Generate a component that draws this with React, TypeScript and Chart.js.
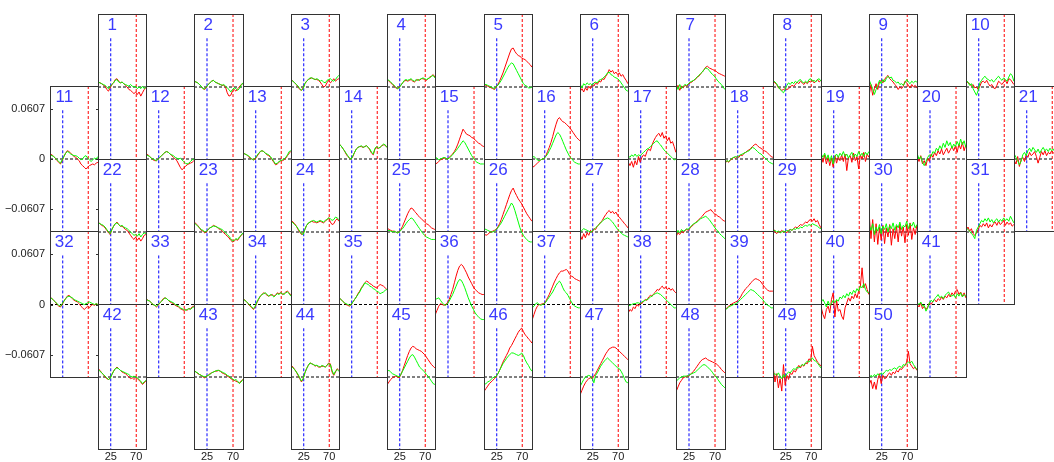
import React, { useEffect, useRef } from 'react';
import { Chart, registerables } from 'chart.js';

Chart.register(...registerables);

// ---- sample positions (x axis, same for every channel) ----
const X_SAMPLES = [3, 6, 9, 12, 15, 18, 21, 24, 27, 30, 33, 36, 39, 42, 45, 48, 51, 54, 57, 60, 63, 66, 69, 72, 75, 78, 81, 84, 87];
// series values are written in units of 0.001
const VALUE_UNIT = 0.001;

// ---- channel series: g = green, r = red ----
const g1 = [6,5,4,3,2,0,-2,1,3,5,8,9,6,5,6,4,3,2,1,3,1,0,1,-2,0,-2,1,-2,0];
const r1 = [6,5,4,2,1,-3,-5,-1,3,5,9,10,7,5,6,4,2,0,-3,-4,-6,-8,-6,-9,-6,-11,-7,-3,-1];
const g2 = [7,6,5,3,1,-2,-2,0,3,5,7,8,6,5,4,3,2,3,1,-1,-3,-6,-3,-1,-2,-4,-2,2,5];
const r2 = [7,6,5,3,1,-2,-3,0,3,5,7,8,6,5,4,3,2,2,0,-7,-11,-10,-5,-3,-5,-2,0,3,4];
const g3 = [8,7,5,3,1,-2,-4,-2,4,7,9,11,11,10,9,10,9,7,8,6,5,8,9,10,8,7,9,12,14];
const r3 = [9,7,5,3,0,-3,-4,-1,4,7,9,10,11,10,9,9,8,6,3,0,1,5,8,5,7,10,7,9,10];
const g4 = [9,8,6,4,2,0,-2,-1,2,5,8,9,8,9,10,8,7,9,8,9,10,11,10,9,10,11,13,14,11];
const r4 = [9,7,5,3,1,-1,-2,0,2,5,7,8,7,8,9,7,6,8,9,8,10,10,9,8,10,12,13,15,12];
const g5 = [3,3,2,1,0,-1,-2,1,2,5,8,12,16,20,24,27,29,28,24,20,16,12,8,4,2,1,-1,-1,0];
const r5 = [3,2,1,0,-1,-2,-3,0,3,7,12,17,23,29,35,41,46,47,43,40,38,37,35,34,33,31,29,27,24];
const g6 = [3,-1,4,2,5,3,4,2,5,6,5,8,9,10,12,14,17,18,15,14,12,11,10,8,5,2,-1,-4,-5];
const r6 = [-5,-2,-6,-1,-4,1,-2,3,1,5,3,7,6,10,9,13,16,21,18,20,16,18,15,17,13,15,11,8,4];
const g7 = [2,-3,3,-2,1,3,2,4,6,7,8,10,12,14,16,18,21,23,22,20,17,15,13,10,7,5,3,0,-3];
const r7 = [-2,2,-4,1,-1,2,1,3,5,6,8,9,12,13,16,18,21,24,25,23,22,21,20,19,17,16,15,14,13];
const g8 = [8,6,4,0,-3,-5,-7,-3,2,5,3,6,4,7,5,8,9,6,5,7,5,9,10,7,8,6,9,10,7];
const r8 = [7,5,3,-1,-2,-4,-3,-2,-3,-2,0,2,1,3,6,4,7,5,3,6,4,7,6,8,5,7,9,6,8];
const g9 = [8,3,-2,-9,-3,2,8,4,9,6,10,13,11,12,8,7,5,6,3,4,2,5,9,6,4,7,5,7,6];
const r9 = [-9,3,-10,-2,4,-3,6,8,5,9,12,14,10,8,6,3,1,-3,0,-2,1,7,5,2,-1,3,0,2,-1];
const g10 = [8,6,2,4,-2,-6,-10,-4,5,8,11,13,10,9,7,9,6,8,11,13,10,8,11,9,7,12,16,14,7];
const r10 = [7,5,4,1,3,-1,0,-3,1,6,7,5,8,4,1,3,-1,-2,2,7,5,3,6,8,4,10,9,6,3];
const g11 = [5,4,3,1,-1,-3,-5,-1,3,7,9,8,6,5,4,4,3,1,-1,0,3,4,1,-1,-3,-1,1,0,3];
const r11 = [6,5,3,1,-2,-4,-6,-2,3,7,10,9,7,5,3,2,0,-2,-6,-8,-10,-12,-10,-8,-7,-6,-7,-5,-4];
const g12 = [5,4,3,1,0,-1,-2,0,2,4,6,8,9,8,6,5,4,2,1,0,1,-1,-3,-5,-6,-5,-3,-1,0];
const r12 = [6,5,3,1,-1,-2,-2,0,2,4,6,8,9,8,6,4,2,0,-2,-6,-10,-13,-11,-9,-7,-6,-5,-4,-2];
const g13 = [7,6,5,4,2,0,-1,1,4,7,9,10,9,7,6,5,3,0,-3,-6,-5,-3,-2,-1,0,2,5,9,10];
const r13 = [7,6,5,3,1,0,-1,0,3,6,9,10,9,7,5,4,2,-1,-4,-7,-6,-4,-2,-2,-1,1,4,7,9];
const g14 = [18,16,13,10,7,4,1,0,4,8,12,14,15,16,14,15,16,14,12,8,6,13,15,13,14,16,18,17,14];
const r14 = [18,16,13,10,6,3,1,0,3,8,12,14,15,15,14,15,16,14,11,7,5,12,14,13,14,16,17,17,14];
const g15 = [2,1,-1,0,1,2,1,0,1,3,5,8,10,13,16,19,22,20,16,12,8,4,1,-2,-4,-5,-6,-6,-6];
const r15 = [-6,-5,-3,-1,0,1,1,0,2,4,6,9,13,18,24,30,36,33,30,29,28,26,25,23,21,19,18,16,15];
const g16 = [2,3,1,-1,-2,-1,0,1,3,6,10,14,19,24,29,32,30,26,21,16,11,7,3,1,-2,-4,-5,-6,-6];
const r16 = [-10,-9,-7,-5,-3,-1,0,1,4,9,14,20,27,35,42,48,50,47,45,44,42,40,38,35,32,29,26,24,22];
const g17 = [4,2,5,3,6,3,5,4,6,8,10,12,13,15,17,19,21,22,19,17,14,11,9,7,5,3,1,-1,0];
const r17 = [-4,-8,-3,-10,-2,-7,3,-4,2,5,3,9,12,10,17,22,26,29,31,27,32,25,28,22,26,19,21,15,8];
const g18 = [-4,-2,-3,-1,1,2,3,2,4,5,6,7,8,9,10,12,14,13,11,9,7,6,4,2,0,-2,-4,-5,-6];
const r18 = [-5,-2,-4,-1,0,2,1,3,2,5,4,7,8,10,11,13,15,17,18,16,14,13,11,10,9,7,5,3,2];
const g19 = [6,2,7,0,5,-3,4,-6,3,6,2,7,4,9,3,6,1,5,8,2,6,3,9,4,7,3,8,5,9];
const r19 = [3,-4,5,-6,2,-8,1,-10,4,-5,3,-2,5,-3,6,-14,2,4,-4,7,-2,3,-12,5,0,8,-3,6,2];
const g20 = [6,0,3,-4,-8,-3,2,5,3,9,7,13,10,16,12,19,14,22,16,20,13,18,15,21,16,24,17,22,14];
const r20 = [2,-3,4,-6,-2,-8,1,-3,6,2,8,4,10,6,12,5,9,13,7,11,15,10,16,8,18,12,20,10,17];
const g21 = [6,2,-2,-7,-3,5,8,4,10,13,9,14,11,8,12,7,11,14,10,12,9,13,10,12,8,11,9,12,10];
const r21 = [-2,-6,3,-9,-1,2,-3,5,2,8,4,6,9,3,-5,2,9,5,10,4,8,6,10,7,9,6,10,7,9];
const g22 = [11,10,9,8,6,3,0,-2,3,7,10,11,9,7,8,6,5,4,2,0,-2,-4,-3,-5,-2,-6,-3,-1,-2];
const r22 = [12,10,8,7,5,2,-1,-3,3,7,10,12,9,7,7,5,3,2,-1,-4,-7,-9,-6,-10,-7,-11,-8,-4,-3];
const g23 = [11,9,7,5,3,2,0,1,3,5,6,7,7,6,5,4,3,1,-1,-3,-5,-8,-11,-10,-8,-9,-6,-4,-1];
const r23 = [12,10,8,5,2,1,-1,0,3,5,6,8,7,6,4,3,1,-1,-3,-5,-7,-10,-12,-11,-9,-10,-7,-4,-2];
const g24 = [13,11,9,7,4,1,-2,-3,3,8,11,12,13,14,13,12,13,14,13,12,14,15,17,16,14,15,18,17,15];
const r24 = [14,12,10,7,3,0,-3,-2,3,8,10,12,13,12,12,11,12,13,12,11,13,15,17,12,9,10,14,16,13];
const g25 = [1,2,1,0,1,0,-1,0,2,4,7,10,13,15,17,16,13,10,7,4,1,-2,-4,-6,-7,-8,-9,-9,-9];
const r25 = [5,3,2,1,1,0,-1,0,3,7,12,17,22,26,29,28,25,23,20,18,16,14,12,10,9,7,5,4,3];
const g26 = [4,3,2,1,0,0,1,3,5,8,11,15,19,23,27,31,35,32,26,19,12,5,0,-4,-7,-9,-11,-12,-12];
const r26 = [-2,-4,-3,-1,0,1,2,3,6,10,15,21,27,33,39,45,50,53,48,44,40,37,34,30,26,22,19,16,13];
const g27 = [0,2,4,3,2,1,0,1,3,5,7,9,11,13,15,16,17,16,14,12,9,6,3,1,-1,-3,-4,-5,-6];
const r27 = [-4,-9,-2,-7,-1,-4,2,0,4,3,7,9,12,14,18,21,24,26,23,25,22,24,20,18,15,13,10,8,5];
const g28 = [-3,2,-1,3,1,2,4,3,6,8,10,11,12,14,16,17,18,19,17,15,12,9,6,3,1,-2,-4,-6,-8];
const r28 = [-5,-1,-3,1,-1,2,3,2,5,7,9,11,13,15,17,19,22,24,25,26,27,24,22,21,19,18,16,14,13];
const g29 = [1,2,0,1,-1,0,1,0,2,1,3,2,4,3,5,4,6,5,7,8,7,9,8,10,9,8,7,5,4];
const r29 = [4,0,-2,1,-1,2,0,1,-1,2,3,2,4,6,5,7,9,8,10,12,11,14,15,13,16,12,14,9,5];
const g30 = [8,2,10,-3,6,1,9,-2,7,3,10,0,8,4,11,2,9,5,12,3,8,6,13,4,10,7,12,5,9];
const r30 = [20,-8,15,-12,10,-15,6,-10,8,-14,5,-6,9,-16,4,-8,7,-12,10,-5,6,-13,9,-4,11,-9,5,-3,8];
const g31 = [5,3,1,-2,-4,-8,2,6,10,14,12,16,13,17,12,15,11,14,16,12,15,13,17,14,16,13,19,15,11];
const r31 = [2,6,1,4,-2,-4,-1,3,8,6,10,7,11,5,9,6,10,12,8,13,9,11,14,8,12,9,11,7,9];
const g32 = [8,7,5,3,1,-1,-2,1,4,7,9,10,9,8,6,5,4,3,2,1,0,1,2,3,2,1,0,1,0];
const r32 = [9,7,5,3,0,-2,-3,0,4,7,10,11,9,7,5,4,3,1,-2,-4,-6,-4,-2,-4,-1,0,-1,1,0];
const g33 = [6,5,4,2,0,-1,-2,0,2,4,6,8,7,5,4,3,2,0,-1,-2,-4,-5,-6,-7,-6,-5,-6,-4,-3];
const r33 = [7,5,4,2,0,-1,-3,-1,2,4,7,8,7,5,3,2,1,-1,-2,-3,-5,-6,-7,-6,-7,-5,-5,-3,-2];
const g34 = [6,5,3,1,-1,-3,-5,-2,3,7,10,12,13,14,12,10,12,11,9,11,13,12,14,13,12,14,15,13,10];
const r34 = [7,5,3,1,-2,-4,-6,-3,2,6,10,12,14,13,11,10,11,12,10,11,14,13,14,12,13,15,16,14,11];
const g35 = [8,6,4,2,1,0,-1,0,3,6,9,12,15,19,22,26,25,24,22,21,19,18,16,15,13,14,15,17,18];
const r35 = [8,6,4,2,0,-1,-2,0,3,6,9,13,16,20,23,26,28,27,25,24,22,21,20,22,24,23,22,20,18];
const g36 = [6,7,8,5,2,0,-1,1,4,8,12,17,22,27,30,29,25,20,14,8,3,-2,-6,-10,-13,-15,-17,-18,-18];
const r36 = [-12,-7,-2,1,0,-1,0,2,6,12,18,26,34,41,46,48,46,42,38,33,29,25,21,18,16,14,13,12,12];
const g37 = [-4,-2,1,2,0,-1,0,1,3,6,9,12,15,19,23,26,28,25,20,16,14,11,7,3,0,-2,-3,-4,-4];
const r37 = [-18,-12,-6,-2,0,0,1,1,4,8,12,17,22,27,31,35,38,40,40,41,42,40,36,34,33,31,30,29,28];
const g38 = [-2,-1,0,1,1,2,2,1,3,4,5,6,7,9,10,12,13,14,13,12,10,8,6,4,2,0,-2,-4,-4];
const r38 = [-10,-6,-8,-3,-5,0,-2,2,1,4,6,5,9,11,10,13,15,18,17,20,22,19,21,18,20,17,19,16,14];
const g39 = [-6,-5,-3,-2,-1,0,1,2,4,6,8,10,12,14,16,18,17,16,14,12,10,8,6,3,1,-1,-2,-4,-4];
const r39 = [-6,-4,-2,-1,1,2,3,4,6,9,13,16,19,21,23,26,28,30,31,30,29,27,24,21,19,17,16,16,16];
const g40 = [3,6,2,-3,4,-1,1,5,2,6,4,9,7,11,8,13,10,15,12,17,14,19,16,22,20,25,18,15,14];
const r40 = [-4,-12,-17,-6,-2,-10,6,14,-15,5,-8,-6,-14,-18,-4,2,8,4,10,7,13,8,16,22,44,20,25,18,12];
const g41 = [2,0,3,-2,-1,-8,-4,2,5,3,7,9,12,8,10,7,11,13,15,11,10,12,8,13,10,14,9,12,10];
const r41 = [0,-3,2,-5,-2,-6,-3,2,0,4,6,3,7,5,9,6,10,8,12,9,14,11,16,18,12,15,10,14,8];
const g42 = [9,7,5,3,1,-1,-3,-2,3,7,10,11,10,8,7,6,5,4,3,1,0,1,0,-1,-3,-5,-8,-6,-4];
const r42 = [10,8,5,3,0,-2,-3,-1,3,7,10,12,10,8,6,5,4,2,0,-2,-1,-3,-1,-2,-4,-6,-9,-7,-5];
const g43 = [7,6,5,3,2,1,0,1,2,3,5,6,7,8,8,7,6,5,4,2,1,-1,-2,-4,-3,-5,-8,-6,-3];
const r43 = [8,6,4,3,2,0,-1,1,2,4,5,6,7,7,8,7,5,4,3,1,0,-2,-3,-4,-5,-6,-7,-5,-3];
const g44 = [13,11,9,6,3,-1,-5,-2,5,10,14,17,16,15,14,14,13,12,14,13,12,14,16,15,8,3,7,9,7];
const r44 = [14,12,9,6,2,-2,-6,-2,5,10,14,17,16,15,13,14,12,12,13,13,12,14,17,16,6,2,6,10,8];
const g45 = [7,8,6,4,3,2,1,0,3,7,11,15,19,23,26,27,24,20,16,12,10,8,6,3,1,-2,-5,-8,-9];
const r45 = [-9,-6,-3,-1,0,1,0,-1,3,8,14,20,26,31,35,37,36,34,33,32,31,29,27,24,21,18,15,13,11];
const g46 = [-9,-8,-6,-5,-3,-1,0,1,4,8,12,16,19,22,25,27,29,29,28,27,26,27,29,26,21,17,14,10,7];
const r46 = [-17,-14,-11,-8,-6,-4,-2,1,4,8,13,18,22,26,30,35,38,42,46,50,54,57,59,55,51,49,46,44,41];
const g47 = [-11,-7,-3,0,1,2,1,-2,-7,2,5,9,13,16,19,21,23,21,19,17,15,13,11,10,7,3,-2,-6,-7];
const r47 = [-21,-16,-11,-7,-4,-2,-1,-2,1,4,8,12,16,20,24,28,31,34,35,36,36,35,33,31,29,27,25,23,21];
const g48 = [-5,-3,-1,0,1,1,1,2,3,4,5,6,8,10,12,14,15,14,12,10,8,5,2,0,-3,-6,-9,-11,-13];
const r48 = [-17,-12,-7,-4,-1,0,1,1,3,5,7,10,13,16,19,21,22,23,21,20,19,18,17,16,14,12,9,7,5];
const g49 = [3,4,2,5,1,-2,3,0,4,6,5,8,10,9,12,11,13,15,14,17,19,18,21,23,20,19,17,14,11];
const r49 = [11,-6,4,-13,-2,-17,15,-10,2,-3,5,3,8,6,10,14,11,15,13,17,16,22,20,37,26,22,18,16,13];
const g50 = [-1,2,0,3,1,4,2,5,3,6,8,7,9,8,10,11,9,12,13,11,15,14,16,18,17,19,15,12,9];
const r50 = [-9,-4,-14,-6,-15,-3,4,-8,2,-2,-1,3,5,2,6,4,8,6,10,9,12,14,18,31,16,13,10,12,8];

const GREEN = [g1,g2,g3,g4,g5,g6,g7,g8,g9,g10,g11,g12,g13,g14,g15,g16,g17,g18,g19,g20,g21,g22,g23,g24,g25,g26,g27,g28,g29,g30,g31,g32,g33,g34,g35,g36,g37,g38,g39,g40,g41,g42,g43,g44,g45,g46,g47,g48,g49,g50];
const RED = [r1,r2,r3,r4,r5,r6,r7,r8,r9,r10,r11,r12,r13,r14,r15,r16,r17,r18,r19,r20,r21,r22,r23,r24,r25,r26,r27,r28,r29,r30,r31,r32,r33,r34,r35,r36,r37,r38,r39,r40,r41,r42,r43,r44,r45,r46,r47,r48,r49,r50];

// ---- axes ----
const X_MIN = 2.5;
const X_MAX = 89;
const Y_MAX = 0.0881;
const MARK_BLUE_X = 25;
const MARK_RED_X = 70;
const MARK_BLUE_TOP = 0.0588;
const Y_TICKS = [-0.0607, 0, 0.0607];
const Y_TICK_LABELS = ['\u22120.0607', '0', '0.0607'];
const X_TICKS = [25, 70];
const X_TICK_LABELS = ['25', '70'];
const Y_AXIS_PANELS = [11, 32];
const X_AXIS_PANELS = [42, 43, 44, 45, 46, 47, 48, 49, 50];

// ---- layout / style ----
const GRID_X0 = 49.7;
const COL_W = 48.2;
const GRID_Y0 = 13.5;
const ROW_H = 72.6;
const AXIS_W = 50;
const AXIS_H = 16;
const LABEL_CENTER = 14.3;
const FRAME_COLOR = '#333333';
const TICK_FONT = "'Liberation Sans', Arial, sans-serif";
const LABEL_FONT = "'Liberation Sans', Arial, sans-serif";

function panelCell(n: number) {
  if (n <= 10) return { col: 2 * (n - 1) + 1, row: 0 };
  if (n <= 21) return { col: 2 * (n - 11), row: 1 };
  if (n <= 31) return { col: 2 * (n - 22) + 1, row: 2 };
  if (n <= 41) return { col: 2 * (n - 32), row: 3 };
  return { col: 2 * (n - 42) + 1, row: 4 };
}

function Panel({ n }: { n: number }) {
  const ref = useRef<HTMLCanvasElement | null>(null);
  const { col, row } = panelCell(n);
  const left = Math.round(GRID_X0 + col * COL_W);
  const right = Math.round(GRID_X0 + (col + 1) * COL_W);
  const top = Math.round(GRID_Y0 + row * ROW_H);
  const bottom = Math.round(GRID_Y0 + (row + 2) * ROW_H);
  const showY = Y_AXIS_PANELS.includes(n);
  const showX = X_AXIS_PANELS.includes(n);
  const cLeft = left - (showY ? AXIS_W : 0);
  const w = right - left + 1 + (showY ? AXIS_W : 0);
  const h = bottom - top + 1 + (showX ? AXIS_H : 0);

  useEffect(() => {
    if (!ref.current) return;
    const toPts = (arr: number[]) => arr.map((v, i) => ({ x: X_SAMPLES[i], y: v * VALUE_UNIT }));
    const framePlugin = {
      id: 'panelFrame',
      afterDatasetsDraw(chart: any) {
        const { ctx, chartArea: a } = chart;
        ctx.save();
        ctx.strokeStyle = FRAME_COLOR;
        ctx.lineWidth = 1;
        ctx.setLineDash([]);
        ctx.strokeRect(a.left + 0.5, a.top + 0.5, a.right - a.left - 1, a.bottom - a.top - 1);
        if (showY) {
          const ys = chart.scales.y;
          ctx.beginPath();
          Y_TICKS.forEach((v) => {
            const py = Math.round(ys.getPixelForValue(v)) + 0.5;
            ctx.moveTo(a.left, py);
            ctx.lineTo(a.left + 3, py);
            ctx.moveTo(a.right - 3, py);
            ctx.lineTo(a.right, py);
          });
          ctx.stroke();
        }
        ctx.restore();
      },
    };
    const lineBase = { pointRadius: 0, borderWidth: 1, tension: 0, fill: false };
    const chart = new Chart(ref.current, {
      type: 'line',
      data: {
        datasets: [
          { ...lineBase, data: toPts(GREEN[n - 1]), borderColor: '#00ff00' },
          { ...lineBase, data: toPts(RED[n - 1]), borderColor: '#ff0000' },
          { ...lineBase, data: [{ x: X_MIN, y: 0 }, { x: X_MAX, y: 0 }], borderColor: '#000000', borderDash: [3, 2] },
          { ...lineBase, data: [{ x: MARK_BLUE_X, y: MARK_BLUE_TOP }, { x: MARK_BLUE_X, y: -Y_MAX }], borderColor: '#0000ff', borderDash: [3, 2] },
          { ...lineBase, data: [{ x: MARK_RED_X, y: Y_MAX }, { x: MARK_RED_X, y: -Y_MAX }], borderColor: '#ff0000', borderDash: [3, 2] },
        ],
      } as any,
      options: {
        animation: false,
        responsive: false,
        devicePixelRatio: 1,
        events: [],
        layout: { padding: 0 },
        plugins: { legend: { display: false }, tooltip: { enabled: false }, title: { display: false } },
        scales: {
          x: {
            type: 'linear',
            min: X_MIN,
            max: X_MAX,
            display: showX,
            grid: { display: false, drawTicks: false },
            border: { display: false },
            afterBuildTicks: (s: any) => { s.ticks = X_TICKS.map((value) => ({ value })); },
            afterFit: (s: any) => {
              s.height = showX ? AXIS_H : 0;
              s.paddingLeft = 0; s.paddingRight = 0;
            },
            ticks: {
              padding: 0,
              maxRotation: 0,
              autoSkip: false,
              color: '#222222',
              font: { family: TICK_FONT, size: 11 },
              callback: (_v: any, i: number) => X_TICK_LABELS[i],
            },
          },
          y: {
            type: 'linear',
            min: -Y_MAX,
            max: Y_MAX,
            display: showY,
            grid: { display: false, drawTicks: false },
            border: { display: false },
            afterBuildTicks: (s: any) => { s.ticks = Y_TICKS.map((value) => ({ value })); },
            afterFit: (s: any) => {
              s.width = showY ? AXIS_W : 0;
              s.paddingTop = 0; s.paddingBottom = 0;
            },
            ticks: {
              padding: 5,
              autoSkip: false,
              color: '#222222',
              font: { family: TICK_FONT, size: 11 },
              callback: (_v: any, i: number) => Y_TICK_LABELS[i],
            },
          },
        },
      } as any,
      plugins: [framePlugin],
    });
    return () => chart.destroy();
  }, [n]);

  return (
    <>
      <canvas
        ref={ref}
        width={w}
        height={h}
        style={{ position: 'absolute', left: cLeft, top, width: w, height: h }}
      />
      <span
        style={{
          position: 'absolute',
          left: left + LABEL_CENTER - 20,
          width: 40,
          textAlign: 'center',
          top: top + 2,
          fontFamily: LABEL_FONT,
          fontSize: 17,
          lineHeight: '17px',
          color: '#3a3aff',
          whiteSpace: 'nowrap',
          pointerEvents: 'none',
        }}
      >
        {n}
      </span>
    </>
  );
}

const PANEL_IDS = Array.from({ length: 50 }, (_, i) => i + 1);

export default function App() {
  return (
    <div
      style={{
        position: 'absolute',
        left: 0,
        top: 0,
        width: 1054,
        height: 462,
        overflow: 'hidden',
        background: '#ffffff',
      }}
    >
      {PANEL_IDS.map((n) => (
        <Panel key={n} n={n} />
      ))}
    </div>
  );
}
